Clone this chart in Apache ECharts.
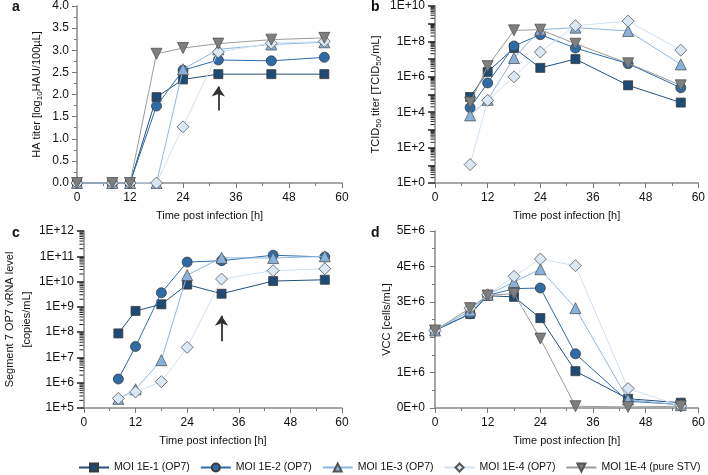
<!DOCTYPE html>
<html>
<head>
<meta charset="utf-8">
<script src="https://cdn.jsdelivr.net/npm/echarts@6/dist/echarts.min.js"></script>
<style>html,body{margin:0;padding:0;background:#fff}#c{width:708px;height:475px}</style>
</head>
<body>
<div id="c"></div>
<script>
// ---------- data ----------
const seriesNames = ['MOI 1E-1 (OP7)', 'MOI 1E-2 (OP7)', 'MOI 1E-3 (OP7)', 'MOI 1E-4 (OP7)', 'MOI 1E-4 (pure STV)'];
const xTicks = [0, 12, 24, 36, 48, 60];

// panel a: HA titer [log10 HAU/100uL]
const timeA = [0, 8, 12, 18, 24, 32, 44, 56];
const haMoi1 = [0, 0, 0, 1.94, 2.34, 2.46, 2.46, 2.46];
const haMoi2 = [0, 0, 0, 1.74, 2.55, 2.78, 2.76, 2.84];
const haMoi3 = [0, 0, 0, 0, 2.57, 3.02, 3.13, 3.18];
const haMoi4 = [0, 0, 0, 0, 1.27, 2.96, 3.16, 3.20];
const haStv = [0, 0, 0, 2.92, 3.05, 3.15, 3.24, 3.28];
const haArrow = [[32, 1.64], [32, 2.18]];

// panel b: TCID50 titer
const timeB = [8, 12, 18, 24, 32, 44, 56];
const tcMoi1 = [7.2e4, 1.9e6, 4.2e7, 3.2e6, 1.0e7, 3.3e5, 3.5e4];
const tcMoi2 = [1.8e4, 4.5e5, 5.5e7, 2.4e8, 4.2e7, 5.5e6, 2.4e5];
const tcMoi3 = [6.6e3, 5.0e4, 1.15e7, 4.6e8, 6.0e8, 3.9e8, 5.0e6];
const tcMoi4 = [11, 4.7e4, 1.0e6, 2.5e7, 7.7e8, 1.4e9, 3.2e7];
const tcStv = [3.5e4, 4.0e6, 4.2e8, 4.6e8, 7.4e7, 5.8e6, 3.3e5];

// panel c: Segment 7 OP7 vRNA level
const timeC = [8, 12, 18, 24, 32, 44, 56];
const rnaMoi1 = [8.9e7, 6.9e8, 1.26e9, 7.6e9, 3.3e9, 1.05e10, 1.18e10];
const rnaMoi2 = [1.4e6, 2.7e7, 3.6e9, 5.9e10, 6.7e10, 1.1e11, 9.4e10];
const rnaMoi3 = [2.3e5, 5.5e5, 7.8e6, 1.8e10, 8.7e10, 8.5e10, 1.0e11];
const rnaMoi4 = [2.4e5, 4.3e5, 1.1e6, 2.5e7, 1.26e10, 2.7e10, 3.2e10];
const rnaArrow = [[32, 4.4e7], [32, 4.4e8]];

// panel d: VCC [cells/mL]
const timeD = [0, 8, 12, 18, 24, 32, 44, 56];
const vccMoi1 = [2.19e6, 2.66e6, 3.17e6, 3.14e6, 2.54e6, 1.04e6, 0.26e6, 0.15e6];
const vccMoi2 = [2.19e6, 2.66e6, 3.18e6, 3.37e6, 3.39e6, 1.53e6, 0.19e6, 0.10e6];
const vccMoi3 = [2.19e6, 2.75e6, 3.20e6, 3.56e6, 3.92e6, 2.82e6, 0.24e6, 0.08e6];
const vccMoi4 = [2.19e6, 2.82e6, 3.20e6, 3.72e6, 4.21e6, 4.02e6, 0.55e6, 0.06e6];
const vccStv = [2.19e6, 2.82e6, 3.18e6, 3.23e6, 1.96e6, 0.05e6, 0.03e6, 0.05e6];

const minorMantissas = [2, 3, 4, 5, 6, 7, 8, 9];

// ---------- style ----------
const FONT = "'Liberation Sans', Arial, sans-serif";
const styles = [
  { symbol: 'rect', size: 9, rot: 0, fill: '#1f4a73', line: '#24507c', border: '#3a3a3a' },
  { symbol: 'circle', size: 10, rot: 0, fill: '#2e6ca8', line: '#2e6ca8', border: '#3a3a3a' },
  { symbol: 'triangle', size: 11, rot: 0, fill: '#88b2dd', line: '#8fb6e0', border: '#555' },
  { symbol: 'diamond', size: 12, rot: 0, fill: '#dae8f6', line: '#cfe1f3', border: '#555' },
  { symbol: 'triangle', size: 11, rot: 180, fill: '#7f7f7f', line: '#9b9b9b', border: '#555' }
];

const grids = [
  { left: 77, top: 6, width: 265, height: 177 },
  { left: 435, top: 6, width: 266, height: 177 },
  { left: 77, top: 231, width: 265, height: 177 },
  { left: 435, top: 231, width: 266, height: 177 }
];

const axisLineStyle = { color: '#8a8a8a', width: 1.5 };
const labelStyle = { color: '#111', fontSize: 12, fontFamily: FONT };
const nameStyle = { color: '#111', fontSize: 11, fontFamily: FONT };
const subStyle = { fontSize: 8, fontFamily: FONT, color: '#111', verticalAlign: 'bottom', padding: [6, 0, 0, 0] };

function makeX(gi) {
  return {
    type: 'value', gridIndex: gi, min: xTicks[0], max: xTicks[xTicks.length - 1], interval: 12,
    name: 'Time post infection [h]', nameLocation: 'middle', nameGap: 27, nameTextStyle: nameStyle,
    axisLine: { show: true, lineStyle: axisLineStyle },
    axisTick: { show: true, length: 5, lineStyle: { color: '#777', width: 1 } },
    minorTick: { show: true, splitNumber: 2, length: 3, lineStyle: { color: '#777', width: 1 } },
    axisLabel: Object.assign({ margin: 9 }, labelStyle),
    splitLine: { show: false }, minorSplitLine: { show: false }
  };
}

const expFmtAll = v => '1E+' + Math.round(Math.log10(v));
const expFmtEven = v => { const e = Math.round(Math.log10(v)); return e % 2 === 0 ? '1E+' + e : ''; };

const yAxes = [
  { // a
    type: 'value', gridIndex: 0, min: 0, max: 4, interval: 0.5,
    name: '{n|HA titer [log}{s|10}{n|HAU/100µL]}', nameLocation: 'middle', nameGap: 33,
    nameTextStyle: Object.assign({ rich: { n: nameStyle, s: subStyle } }, nameStyle),
    axisLine: { show: true, lineStyle: axisLineStyle },
    axisTick: { show: true, length: 5, lineStyle: { color: '#777' } },
    minorTick: { show: true, splitNumber: 2, length: 3, lineStyle: { color: '#777' } },
    axisLabel: Object.assign({ margin: 8, formatter: v => v.toFixed(1) }, labelStyle),
    splitLine: { show: false }
  },
  { // b
    type: 'log', logBase: 10, gridIndex: 1, min: 1, max: 1e10, interval: 1,
    name: '{n|TCID}{s|50}{n| titer [TCID}{s|50}{n|/mL]}', nameLocation: 'middle', nameGap: 52,
    nameTextStyle: Object.assign({ rich: { n: nameStyle, s: subStyle } }, nameStyle),
    axisLine: { show: true, lineStyle: axisLineStyle },
    axisTick: { show: true, length: 7, lineStyle: { color: '#222', width: 1.5 } },
    axisLabel: Object.assign({ margin: 10, formatter: expFmtEven }, labelStyle),
    splitLine: { show: false }
  },
  { // c
    type: 'log', logBase: 10, gridIndex: 2, min: 1e5, max: 1e12, interval: 1,
    name: 'Segment 7 OP7 vRNA level\n[copies/mL]', nameLocation: 'middle', nameGap: 42,
    nameTextStyle: Object.assign({ lineHeight: 17 }, nameStyle),
    axisLine: { show: true, lineStyle: axisLineStyle },
    axisTick: { show: true, length: 7, lineStyle: { color: '#222', width: 1.5 } },
    axisLabel: Object.assign({ margin: 10, formatter: expFmtAll }, labelStyle),
    splitLine: { show: false }
  },
  { // d
    type: 'value', gridIndex: 3, min: 0, max: 5e6, interval: 1e6,
    name: 'VCC [cells/mL]', nameLocation: 'middle', nameGap: 42, nameTextStyle: nameStyle,
    axisLine: { show: true, lineStyle: axisLineStyle },
    axisTick: { show: true, length: 5, lineStyle: { color: '#777' } },
    minorTick: { show: true, splitNumber: 2, length: 3, lineStyle: { color: '#777' } },
    axisLabel: Object.assign({ margin: 10, formatter: v => (v === 0 ? '0E+0' : Math.round(v / 1e6) + 'E+6') }, labelStyle),
    splitLine: { show: false }
  }
];

function pairs(xs, ys) { return xs.map((t, i) => [t, ys[i]]); }

function makeSeries(idx, xs, ys, xi, yi, arrow) {
  const st = styles[idx];
  const s = {
    type: 'line', name: seriesNames[idx], xAxisIndex: xi, yAxisIndex: yi,
    data: pairs(xs, ys),
    symbol: st.symbol, symbolSize: st.size, symbolRotate: st.rot,
    showAllSymbol: true, silent: true,
    lineStyle: { color: st.line, width: 1 },
    itemStyle: { color: st.fill, borderColor: st.border, borderWidth: 0.8 },
    emphasis: { disabled: true },
    z: 2 + idx
  };
  if (arrow) {
    s.markLine = {
      silent: true, symbol: ['none', 'arrow'], symbolSize: 10,
      label: { show: false },
      lineStyle: { color: '#333', width: 1.8, type: 'solid' },
      data: [[{ coord: arrow[0] }, { coord: arrow[1] }]]
    };
  }
  return s;
}

// minor ticks of the log axes (2..9 of each decade), drawn through the axis scale
function logMinorValues(lo, hi) {
  const out = [];
  for (let k = lo; k < hi; k++) minorMantissas.forEach(m => out.push(m * Math.pow(10, k)));
  return out;
}
function minorTickSeries(xi, yi, lo, hi) {
  return {
    type: 'custom', xAxisIndex: xi, yAxisIndex: yi, silent: true, clip: false, z: 1,
    data: logMinorValues(lo, hi).map(v => [0, v]),
    renderItem: (params, api) => {
      const p = api.coord([0, api.value(1)]);
      return { type: 'line', shape: { x1: p[0] - 4.5, y1: p[1], x2: p[0] - 0.5, y2: p[1] }, style: { stroke: '#222', lineWidth: 1 } };
    }
  };
}

const series = [
  makeSeries(0, timeA, haMoi1, 0, 0, haArrow),
  makeSeries(1, timeA, haMoi2, 0, 0),
  makeSeries(2, timeA, haMoi3, 0, 0),
  makeSeries(3, timeA, haMoi4, 0, 0),
  makeSeries(4, timeA, haStv, 0, 0),

  makeSeries(0, timeB, tcMoi1, 1, 1),
  makeSeries(1, timeB, tcMoi2, 1, 1),
  makeSeries(2, timeB, tcMoi3, 1, 1),
  makeSeries(3, timeB, tcMoi4, 1, 1),
  makeSeries(4, timeB, tcStv, 1, 1),

  makeSeries(0, timeC, rnaMoi1, 2, 2, rnaArrow),
  makeSeries(1, timeC, rnaMoi2, 2, 2),
  makeSeries(2, timeC, rnaMoi3, 2, 2),
  makeSeries(3, timeC, rnaMoi4, 2, 2),

  makeSeries(0, timeD, vccMoi1, 3, 3),
  makeSeries(1, timeD, vccMoi2, 3, 3),
  makeSeries(2, timeD, vccMoi3, 3, 3),
  makeSeries(3, timeD, vccMoi4, 3, 3),
  makeSeries(4, timeD, vccStv, 3, 3),

  minorTickSeries(1, 1, 0, 10),
  minorTickSeries(2, 2, 5, 12)
];

const panelLetter = (t, x, y) => ({ type: 'text', left: x, top: y, style: { text: t, font: 'bold 14px ' + FONT, fill: '#111' } });

const option = {
  animation: false,
  backgroundColor: '#fff',
  textStyle: { fontFamily: FONT },
  grid: grids,
  xAxis: [makeX(0), makeX(1), makeX(2), makeX(3)],
  yAxis: yAxes,
  series: series,
  legend: {
    data: seriesNames, left: 73, top: 457, itemWidth: 30, itemHeight: 10, itemGap: 10,
    textStyle: { fontSize: 10.5, fontFamily: FONT, color: '#111' }, selectedMode: false
  },
  graphic: [
    panelLetter('a', 12, 0),
    panelLetter('b', 371, 0),
    panelLetter('c', 12, 226),
    panelLetter('d', 371, 226)
  ]
};

const chart = echarts.init(document.getElementById('c'), null, { renderer: 'canvas' });
chart.setOption(option);
</script>
</body>
</html>
